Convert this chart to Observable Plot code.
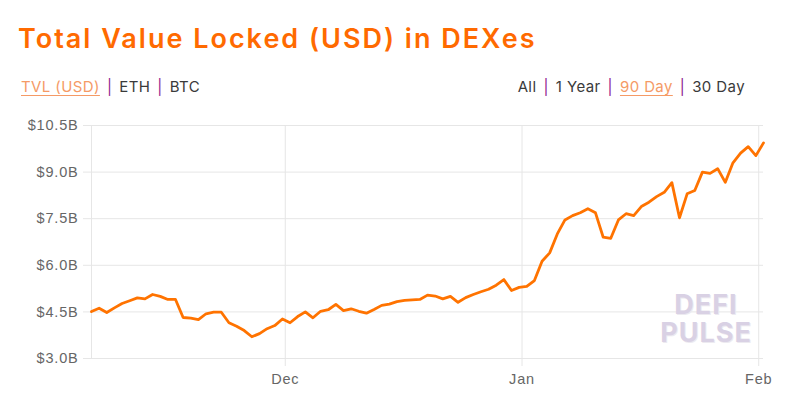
<!DOCTYPE html>
<html>
<head>
<meta charset="utf-8">
<script src="https://cdn.jsdelivr.net/npm/d3@7"></script>
<script src="https://cdn.jsdelivr.net/npm/@observablehq/plot@0.6"></script>
<style>
  html, body { margin: 0; padding: 0; background: #fff; }
  #wrap { position: relative; width: 810px; height: 406px; overflow: hidden; font-family: Inter, "Open Sans", sans-serif; }
  #title { position: absolute; left: 18px; top: 22px; font-size: 27px; font-weight: 600; color: #ff6a00; white-space: nowrap; letter-spacing: 2px; }
  .ctl { position: absolute; top: 77px; font-size: 15px; color: #3a3a3a; white-space: nowrap; letter-spacing: 0.4px; }
  .ctl .on { color: #f59a66; text-decoration: underline; text-underline-offset: 3px; }
  .ctl .sep { color: #8e1b8e; margin: 0 7px; }
  #left { left: 21px; }
  #right { right: 65px; }
  #chart { position: absolute; left: 0; top: 108px; }
  #chart svg text { letter-spacing: 0.8px; }
  .wm { position: absolute; left: 656px; width: 100px; height: 22px; text-align: center; font-size: 27px; font-weight: 700; line-height: 22px; color: #d9d1e4; letter-spacing: 1px; text-shadow: 1px 1px 0 #eceaf0; font-family: Inter, sans-serif; }
  #wm1 { top: 294px; }
  #wm2 { top: 322px; }
</style>
</head>
<body>
<div id="wrap">
  <div id="title">Total Value Locked (USD) in DEXes</div>
  <div id="left" class="ctl"><span class="on">TVL (USD)</span><span class="sep">|</span>ETH<span class="sep">|</span>BTC</div>
  <div id="right" class="ctl">All<span class="sep">|</span>1 Year<span class="sep">|</span><span class="on">90 Day</span><span class="sep">|</span>30 Day</div>
  <div id="chart"></div>
  <div id="wm1" class="wm">DEFI</div>
  <div id="wm2" class="wm">PULSE</div>
</div>
<script>
// Daily TVL in billions USD, starting 2020-11-05 15:00 UTC
const startDate = Date.UTC(2020, 10, 5, 15);
const tvl = [
  4.51, 4.62, 4.48, 4.63, 4.77, 4.86, 4.95, 4.92, 5.06, 5.00,
  4.90, 4.90, 4.32, 4.30, 4.25, 4.44, 4.49, 4.49, 4.15, 4.04,
  3.90, 3.70, 3.80, 3.96, 4.06, 4.27, 4.15, 4.35, 4.50, 4.31,
  4.52, 4.57, 4.74, 4.54, 4.60, 4.52, 4.46, 4.58, 4.71, 4.75,
  4.83, 4.87, 4.89, 4.90, 5.04, 5.01, 4.92, 5.00, 4.81, 4.96,
  5.06, 5.15, 5.23, 5.36, 5.54, 5.19, 5.29, 5.32, 5.51, 6.13,
  6.40, 7.01, 7.46, 7.60, 7.69, 7.82, 7.69, 6.91, 6.87, 7.46,
  7.66, 7.60, 7.89, 8.03, 8.21, 8.35, 8.66, 7.53, 8.30, 8.41,
  9.00, 8.96, 9.11, 8.67, 9.30, 9.61, 9.82, 9.53, 9.94
];
const yTicks = [3.0, 4.5, 6.0, 7.5, 9.0, 10.5];
const monthTicks = [new Date(Date.UTC(2020, 11, 1)), new Date(Date.UTC(2021, 0, 1)), new Date(Date.UTC(2021, 1, 1))];
const monthLabels = ["Dec", "Jan", "Feb"];

const data = tvl.map((v, i) => ({ date: new Date(startDate + i * 86400000), value: v }));

const chart = Plot.plot({
  width: 810,
  height: 298,
  marginTop: 17,
  marginBottom: 48,
  marginLeft: 91,
  marginRight: 47,
  style: { fontFamily: "'Liberation Sans', Arial, sans-serif", fontSize: "14.5px", color: "#666", background: "transparent" },
  x: { type: "utc", domain: [data[0].date, data[data.length - 1].date] },
  y: { domain: [3.0, 10.5] },
  marks: [
    Plot.gridY(yTicks, { stroke: "#e6e6e6", strokeOpacity: 1, strokeWidth: 1 }),
    Plot.axisY(yTicks, {
      tickSize: 8, tickPadding: 5, stroke: "#e6e6e6", strokeOpacity: 1,
      tickFormat: d => "$" + d.toFixed(1) + "B", fill: "#666", fontSize: 14.5, label: null
    }),
    Plot.gridX(monthTicks, { stroke: "#e6e6e6", strokeOpacity: 1, strokeWidth: 1 }),
    Plot.axisX(monthTicks, {
      tickSize: 8, tickPadding: 7, stroke: "#e6e6e6", strokeOpacity: 1,
      tickFormat: (d, i) => monthLabels[i], fill: "#666", fontSize: 14.5, label: null
    }),
    Plot.ruleX([data[0].date], { stroke: "#e6e6e6", strokeWidth: 1 }),
    Plot.line(data, { x: "date", y: "value", stroke: "#ff7300", strokeWidth: 2.8, curve: "linear" })
  ]
});
document.getElementById("chart").appendChild(chart);
</script>
</body>
</html>
